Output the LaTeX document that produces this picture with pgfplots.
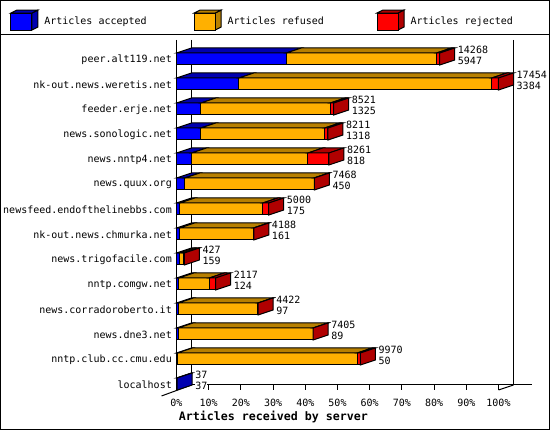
\documentclass[border=0pt]{standalone}
\usepackage{pgfplots}
\usepackage{pgfplotstable}
\usepackage{xfp}
\usepackage{fontspec}
\setmainfont{DejaVu Sans Mono}
\pgfplotsset{compat=1.18}

\definecolor{acc}{HTML}{0000FF}
\definecolor{accd}{HTML}{0000B0}
\definecolor{ref}{HTML}{FFB000}
\definecolor{refd}{HTML}{B88000}
\definecolor{rej}{HTML}{FF0000}
\definecolor{rejd}{HTML}{B00000}

% total and accepted are printed; rejected is read off the bars; bars are % of the largest total
\pgfplotstableread{
pos total accepted refused rejected cap
13 14268 5947 8141 180 rejd
12 17454 3384 13710 360 rejd
11 8521 1325 7006 190 rejd
10 8211 1318 6713 180 rejd
9 8261 818 6303 1140 rejd
8 7468 450 7008 10 rejd
7 5000 175 4505 320 rejd
6 4188 161 4017 10 rejd
5 427 159 238 30 rejd
4 2117 124 1653 340 rejd
3 4422 97 4320 5 rejd
2 7405 89 7311 5 rejd
1 9970 50 9750 170 rejd
0 37 37 0 0 accd
}\data

\newcommand{\cube}[2]{%
  \fill[#2,draw=black,line width=1pt] (21pt,8.5pt) -- (27pt,11.5pt) -- (27pt,-5.5pt) -- (21pt,-8.5pt) -- cycle;
  \fill[#2,draw=black,line width=1pt] (0pt,8.5pt) -- (6pt,11.5pt) -- (27pt,11.5pt) -- (21pt,8.5pt) -- cycle;
  \fill[#1,draw=black,line width=1pt] (0pt,-8.5pt) rectangle (21pt,8.5pt);}

\newcommand{\face}[5]{% colour, x0, x1, x0 back, x1 back
  \edef\temp{\noexpand\addplot[forget plot,no marks,draw=black,line width=1pt,fill=#1]
    coordinates {(#2,\yt) (#3,\yt) (#5,\yb) (#4,\yb)} -- cycle;}\temp}

\begin{document}
\begin{tikzpicture}
\begin{scope}[xshift=-176.5pt,yshift=390pt,x=1pt,y=-1pt,line width=1pt]
  \useasboundingbox (0,0) rectangle (550,430);
  \fill[white] (0,0) rectangle (550,430);
  \draw (0.5,0.5) rectangle (549.5,429.5);
  \draw (0,35) -- (550,35);
  \draw (176.5,40) -- (176.5,390);
  \draw (191.5,40) -- (191.5,385);
  \draw (513.5,40) -- (513.5,385);
  \draw (191.5,385) -- (532,385);
  \draw (161.5,396) -- (191.5,385);
  \draw (498.5,390) -- (513.5,385);
\end{scope}
\begin{axis}[
    at={(0pt,0pt)}, anchor=south west,
    scale only axis,
    width=322pt, height=350pt,
    xmin=0, xmax=100,
    ymin=-0.24, ymax=13.76,
    clip=false,
    axis line style={draw=none},
    no marks,
    font=\fontsize{10}{12}\selectfont,
    xtick={0,10,...,100},
    xticklabels={0\%,10\%,20\%,30\%,40\%,50\%,60\%,70\%,80\%,90\%,100\%},
    xtick pos=bottom,
    tick align=inside,
    major tick length=5pt,
    xtick style={black,line width=1pt},
    xticklabel style={anchor=center,yshift=-13pt},
    ytick={0,...,13},
    yticklabels={localhost,nntp.club.cc.cmu.edu,news.dne3.net,news.corradoroberto.it,nntp.comgw.net,news.trigofacile.com,nk-out.news.chmurka.net,newsfeed.endofthelinebbs.com,news.quux.org,news.nntp4.net,news.sonologic.net,feeder.erje.net,nk-out.news.weretis.net,peer.alt119.net},
    ytick pos=left,
    ytick style={draw=none},
    yticklabel style={anchor=east,inner sep=0pt,xshift=-4.5pt,yshift=-0.7pt},
    xlabel={Articles received by server},
    xlabel style={at={(axis description cs:0.301,-0.077)},anchor=center,font=\fontsize{11.63}{14}\selectfont\bfseries},
    legend columns=3,
    legend style={at={(axis description cs:-0.516,1.057)},anchor=west,draw=none,fill=none,
      inner sep=0pt,outer sep=0pt,font=\fontsize{10}{12}\selectfont,
      /tikz/column 2/.style={column sep=45pt},
      /tikz/column 4/.style={column sep=50.5pt},
      /tikz/column 1/.style={column sep=4pt},
      /tikz/column 3/.style={column sep=4pt},
      /tikz/column 5/.style={column sep=4pt}},
]
% front faces
\addplot[xbar,stack plots=x,bar width=12pt,bar shift=0pt,fill=acc,draw=black,line width=1pt,
    legend image code/.code={\cube{acc}{accd}}]
    table[x expr=\thisrow{accepted}/174.54,y=pos] {\data};
\addplot[xbar,stack plots=x,bar width=12pt,bar shift=0pt,fill=ref,draw=black,line width=1pt,
    legend image code/.code={\cube{ref}{refd}}]
    table[x expr=\thisrow{refused}/174.54,y=pos] {\data};
\addplot[xbar,stack plots=x,bar width=12pt,bar shift=0pt,fill=rej,draw=black,line width=1pt,
    legend image code/.code={\cube{rej}{rejd}}]
    table[x expr=\thisrow{rejected}/174.54,y=pos] {\data};
\legend{Articles accepted,Articles refused,Articles rejected}
% top and side faces, 15px deep and 5px up
\pgfplotsforeachungrouped \r in {0,...,13}{
  \pgfplotstablegetelem{\r}{pos}\of\data \let\p\pgfplotsretval
  \pgfplotstablegetelem{\r}{accepted}\of\data \let\va\pgfplotsretval
  \pgfplotstablegetelem{\r}{refused}\of\data \let\vb\pgfplotsretval
  \pgfplotstablegetelem{\r}{rejected}\of\data \let\vc\pgfplotsretval
  \pgfplotstablegetelem{\r}{cap}\of\data \let\capc\pgfplotsretval
  \edef\yt{\fpeval{\p+0.24}}
  \edef\yb{\fpeval{\p+0.44}}
  \edef\yl{\fpeval{\p-0.24}}
  \edef\ylb{\fpeval{\p-0.04}}
  \edef\xa{\fpeval{round(\va/174.54,3)}}
  \edef\xb{\fpeval{round((\va+\vb)/174.54,3)}}
  \edef\xc{\fpeval{round((\va+\vb+\vc)/174.54,3)}}
  \edef\xab{\fpeval{\xa+4.66}}
  \edef\xbb{\fpeval{\xb+4.66}}
  \edef\xcb{\fpeval{\xc+4.66}}
  \face{accd}{0}{\xa}{4.66}{\xab}
  \face{refd}{\xa}{\xb}{\xab}{\xbb}
  \face{rejd}{\xb}{\xc}{\xbb}{\xcb}
  \edef\temp{\noexpand\addplot[forget plot,no marks,draw=black,line width=1pt,fill=\capc]
    coordinates {(\xc,\yt) (\xcb,\yb) (\xcb,\ylb) (\xc,\yl)} -- cycle;}\temp
}
% value labels, total above accepted
\addplot[forget plot,draw=none,no marks,nodes near coords,point meta=explicit symbolic,
    every node near coord/.style={anchor=west,inner sep=0pt,fill=white,font=\fontsize{10}{10}\selectfont}]
    table[x expr=\thisrow{total}/174.54+5.6,y expr=\thisrow{pos}+0.36,meta=total] {\data};
\addplot[forget plot,draw=none,no marks,nodes near coords,point meta=explicit symbolic,
    every node near coord/.style={anchor=west,inner sep=0pt,fill=white,font=\fontsize{10}{10}\selectfont}]
    table[x expr=\thisrow{total}/174.54+5.6,y expr=\thisrow{pos}-0.07,meta=accepted] {\data};
\end{axis}
\end{tikzpicture}
\end{document}
